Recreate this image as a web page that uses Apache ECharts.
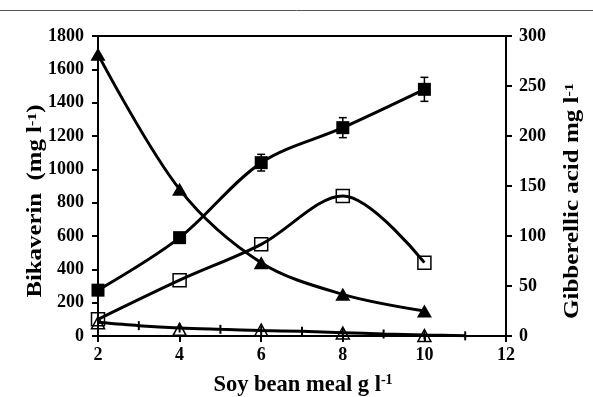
<!DOCTYPE html>
<html>
<head>
<meta charset="utf-8">
<script src="https://cdn.jsdelivr.net/npm/echarts@6/dist/echarts.min.js"></script>
<style>html,body{margin:0;padding:0;background:#fff}#c{width:593px;height:397px}</style>
</head>
<body>
<div id="c"></div>
<script>
// ---- data ----
const xValues = [2, 4, 6, 8, 10];
const filledSquares = [275, 590, 1040, 1250, 1480];
const filledSquaresErr = [30, 30, 50, 60, 72];
const openSquares = [100, 335, 550, 840, 440];
const filledTriangles = [1690, 880, 440, 250, 150];
const openTriangles = [80, 40, 36, 18, 3];
const dashX = [2, 3, 4, 5, 6, 7, 8, 9, 10, 11];
const dashValues = [82, 62, 48, 40, 33, 28, 20, 12, 6, 1];
const xTicks = {min: 2, max: 12, step: 2};
const leftTicks = {min: 0, max: 1800, step: 200};
const rightTicks = {min: 0, max: 300, step: 50};

const FONT = '"Liberation Serif", "Times New Roman", serif';
const pair = (xs, ys) => xs.map((x, i) => [x, ys[i]]);

const chart = echarts.init(document.getElementById('c'), null, {renderer: 'canvas'});
const labelBase = {color: '#000', fontFamily: FONT, fontWeight: 'bold', fontSize: 18, formatter: v => String(v)};
const axisCommon = {
  axisLine: {show: true, lineStyle: {color: '#000', width: 2}},
  axisTick: {show: true, inside: false, length: 6, lineStyle: {color: '#000', width: 2}},
  splitLine: {show: false}
};
const lineBase = {type: 'line', yAxisIndex: 0, smooth: 0.33, lineStyle: {color: '#000', width: 3}, z: 3};
const titleRich = (size, sup) => ({
  a: {fontFamily: FONT, fontWeight: 'bold', fontSize: size, fill: '#000'},
  s: {fontFamily: FONT, fontWeight: 'bold', fontSize: sup, fill: '#000', verticalAlign: 'top'}
});

chart.setOption({
  animation: false,
  backgroundColor: '#fff',
  grid: {left: 98, right: 87, top: 36, bottom: 61, show: true, borderColor: '#000', borderWidth: 2, backgroundColor: 'transparent'},
  xAxis: Object.assign({}, axisCommon, {
    type: 'value', min: xTicks.min, max: xTicks.max, interval: xTicks.step,
    axisLabel: Object.assign({}, labelBase, {margin: 10})
  }),
  yAxis: [
    Object.assign({}, axisCommon, {
      type: 'value', position: 'left', min: leftTicks.min, max: leftTicks.max, interval: leftTicks.step,
      axisLabel: Object.assign({}, labelBase, {margin: 14})
    }),
    Object.assign({}, axisCommon, {
      type: 'value', position: 'right', min: rightTicks.min, max: rightTicks.max, interval: rightTicks.step,
      axisLabel: Object.assign({}, labelBase, {margin: 13})
    })
  ],
  graphic: [
    {type: 'line', shape: {x1: 0, y1: 10.5, x2: 593, y2: 10.5}, style: {stroke: '#555', lineWidth: 1}},
    {type: 'text', x: 36, y: 201, rotation: Math.PI / 2, scaleX: 1.24,
      style: {text: '{a|Bikaverin  (mg l}{s|-1}{a|)}', align: 'center', verticalAlign: 'middle', rich: titleRich(20, 13)}},
    {type: 'text', x: 573, y: 201, rotation: Math.PI / 2, scaleX: 1.25,
      style: {text: '{a|Gibberellic acid mg l}{s|-1}', align: 'center', verticalAlign: 'middle', rich: titleRich(20, 13)}},
    {type: 'text', x: 303, y: 385,
      style: {text: '{a|Soy bean meal g l}{s|-1}', align: 'center', verticalAlign: 'middle', rich: titleRich(22.5, 14)}}
  ],
  series: [
    Object.assign({}, lineBase, {
      name: 'dash', data: pair(dashX, dashValues), smooth: 0.3,
      symbol: 'rect', symbolSize: [2, 9], itemStyle: {color: '#000'}
    }),
    Object.assign({}, lineBase, {
      name: 'openTri', data: pair(xValues, openTriangles),
      lineStyle: {width: 0, opacity: 0},
      symbol: 'triangle', symbolSize: [13, 12],
      itemStyle: {color: 'rgba(255,255,255,0)', borderColor: '#000', borderWidth: 1.5}
    }),
    Object.assign({}, lineBase, {
      name: 'filledTri', data: pair(xValues, filledTriangles),
      symbol: 'triangle', symbolSize: [15, 13], itemStyle: {color: '#000'}
    }),
    Object.assign({}, lineBase, {
      name: 'openSq', data: pair(xValues, openSquares),
      symbol: 'rect', symbolSize: 13,
      itemStyle: {color: 'rgba(255,255,255,0)', borderColor: '#000', borderWidth: 1.5}
    }),
    Object.assign({}, lineBase, {
      name: 'filledSq', data: pair(xValues, filledSquares),
      symbol: 'rect', symbolSize: 13, itemStyle: {color: '#000'}
    }),
    {
      type: 'custom', name: 'err', yAxisIndex: 0, z: 4,
      data: xValues.map((x, i) => [x, filledSquares[i] - filledSquaresErr[i], filledSquares[i] + filledSquaresErr[i]]),
      renderItem: function (params, api) {
        const lo = api.coord([api.value(0), api.value(1)]);
        const hi = api.coord([api.value(0), api.value(2)]);
        const w = 4;
        const st = {stroke: '#000', lineWidth: 1.5};
        return {type: 'group', children: [
          {type: 'line', shape: {x1: lo[0], y1: lo[1], x2: hi[0], y2: hi[1]}, style: st},
          {type: 'line', shape: {x1: lo[0] - w, y1: lo[1], x2: lo[0] + w, y2: lo[1]}, style: st},
          {type: 'line', shape: {x1: hi[0] - w, y1: hi[1], x2: hi[0] + w, y2: hi[1]}, style: st}
        ]};
      }
    }
  ]
});
</script>
</body>
</html>
